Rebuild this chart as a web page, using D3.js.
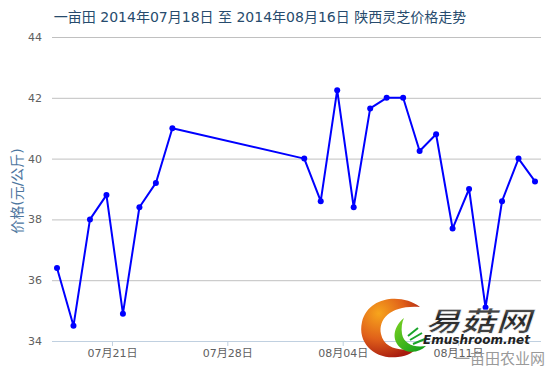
<!DOCTYPE html>
<html>
<head>
<meta charset="utf-8">
<script src="https://cdn.jsdelivr.net/npm/d3@7"></script>
<style>
  body { margin: 0; background: #fff; }
  svg { display: block; font-family: "DejaVu Sans", "Noto Sans CJK SC", sans-serif; }
</style>
</head>
<body>
<div id="chart"></div>
<script>
// data
const dates = ["2014-07-18", "2014-07-19", "2014-07-20", "2014-07-21", "2014-07-22", "2014-07-23",
  "2014-07-24", "2014-07-25", "2014-08-02", "2014-08-03", "2014-08-04", "2014-08-05", "2014-08-06",
  "2014-08-07", "2014-08-08", "2014-08-09", "2014-08-10", "2014-08-11", "2014-08-12", "2014-08-13",
  "2014-08-14", "2014-08-15", "2014-08-16"]
const prices = [36.4, 34.5, 38.0, 38.8, 34.9, 38.4, 39.2, 41.0, 40.0, 38.6, 42.25, 38.4, 41.65,
  42.0, 42.0, 40.25, 40.8, 37.7, 39.0, 35.1, 38.6, 40.0, 39.25]
const yTicks = [34, 36, 38, 40, 42, 44]
const xTicks = ["2014-07-21", "2014-07-28", "2014-08-04", "2014-08-11"]
const title = "一亩田 2014年07月18日 至 2014年08月16日 陕西灵芝价格走势"
const yTitle = "价格(元/公斤)"

const width = 550, height = 367
const plot = {left: 52, right: 541, top: 37, bottom: 341}

const parse = d3.utcParse("%Y-%m-%d")
const data = dates.map((d, i) => ({date: parse(d), value: prices[i]}))

const svg = d3.select("#chart").append("svg")
    .attr("width", width)
    .attr("height", height)

const x = d3.scaleUtc()
    .domain(d3.extent(data, d => d.date))
    .range([57, 535])

const y = d3.scaleLinear()
    .domain([34, 44])
    .range([plot.bottom, plot.top])

// title
svg.append("text")
    .attr("x", 260).attr("y", 22)
    .attr("text-anchor", "middle")
    .attr("fill", "#274b6d")
    .style("font-size", "14px")
    .text(title)

// grid + y labels
const yAxis = svg.append("g")
    .attr("transform", `translate(${plot.left},0)`)
    .call(d3.axisLeft(y).tickValues(yTicks).tickSize(-(plot.right - plot.left)).tickPadding(10))
yAxis.select(".domain").remove()
yAxis.selectAll(".tick line").attr("stroke", "#c0c0c0")
yAxis.selectAll(".tick text").attr("fill", "#606060").style("font-size", "11px")
    .attr("font-family", "DejaVu Sans")

// x axis, ticks sit at local midnight (8h after the utc points)
const xAxis = svg.append("g")
    .attr("transform", `translate(0,${plot.bottom})`)
    .call(d3.axisBottom(x)
        .tickValues(xTicks.map(d => d3.utcHour.offset(parse(d), 8)))
        .tickFormat(d3.utcFormat("%m月%d日"))
        .tickSize(5).tickPadding(3))
xAxis.select(".domain").attr("d", `M${plot.left},0.5H${plot.right}`).attr("stroke", "#c0d0e0")
xAxis.selectAll(".tick line").attr("stroke", "#c0d0e0")
xAxis.selectAll(".tick text").attr("fill", "#606060").style("font-size", "11px")
    .attr("font-family", "DejaVu Sans, Noto Sans CJK SC")

// y title
svg.append("text")
    .attr("transform", `translate(22,${(plot.top + plot.bottom) / 2 + 2}) rotate(-90)`)
    .attr("text-anchor", "middle")
    .attr("fill", "#4d759e")
    .style("font-size", "14px")
    .text(yTitle)

// series
const line = d3.line()
    .x(d => x(d.date))
    .y(d => y(d.value))

svg.append("path")
    .datum(data)
    .attr("fill", "none")
    .attr("stroke", "#0000ff")
    .attr("stroke-width", 2)
    .attr("stroke-linejoin", "round")
    .attr("d", line)

svg.append("g").selectAll("circle")
    .data(data)
    .join("circle")
    .attr("cx", d => x(d.date))
    .attr("cy", d => y(d.value))
    .attr("r", 3)
    .attr("fill", "#0000ff")

// watermark logo
const defs = svg.append("defs")
const og = defs.append("radialGradient").attr("id", "og")
    .attr("cx", "30%").attr("cy", "25%").attr("r", "80%")
og.append("stop").attr("offset", "0%").attr("stop-color", "#f7a51c")
og.append("stop").attr("offset", "55%").attr("stop-color", "#e0601a")
og.append("stop").attr("offset", "100%").attr("stop-color", "#a81c10")
const gg = defs.append("linearGradient").attr("id", "gg")
    .attr("x1", "0").attr("y1", "0").attr("x2", "1").attr("y2", "1")
gg.append("stop").attr("offset", "0%").attr("stop-color", "#7ed321")
gg.append("stop").attr("offset", "100%").attr("stop-color", "#0a9a1a")
const tg = defs.append("linearGradient").attr("id", "tg")
    .attr("x1", "0").attr("y1", "0").attr("x2", "0").attr("y2", "1")
tg.append("stop").attr("offset", "0%").attr("stop-color", "#888")
tg.append("stop").attr("offset", "45%").attr("stop-color", "#222")
tg.append("stop").attr("offset", "100%").attr("stop-color", "#555")

const logo = svg.append("g")
logo.append("path")
    .attr("fill", "url(#og)")
    .attr("d", "M420,307 C402,293 368,296 362,322 C357,344 376,360 398,357 C408,356 414,352 418,347"
        + " C404,352 384,350 381,334 C378,318 392,305 420,307 Z")
logo.append("path")
    .attr("fill", "url(#gg)")
    .attr("d", "M404,318 C394,326 390,340 402,349 C410,354 420,352 426,346"
        + " C414,348 404,344 402,334 C401,328 402,322 404,318 Z")
logo.append("path")
    .attr("fill", "none").attr("stroke", "#1aa52a").attr("stroke-width", 2)
    .attr("d", "M410,340 L422,333 M413,344 L425,339 M408,336 L418,328")

logo.append("text")
    .attr("x", 425).attr("y", 331)
    .attr("textLength", 106).attr("lengthAdjust", "spacingAndGlyphs")
    .attr("fill", "url(#tg)").attr("stroke", "#fff").attr("stroke-width", 0.6)
    .style("font-size", "27px").style("font-weight", "bold").style("font-style", "italic")
    .attr("font-family", "Noto Sans CJK SC")
    .text("易菇网")
logo.append("text")
    .attr("x", 423).attr("y", 344)
    .attr("textLength", 107).attr("lengthAdjust", "spacingAndGlyphs")
    .attr("fill", "#222")
    .style("font-size", "12px").style("font-weight", "bold").style("font-style", "italic")
    .attr("font-family", "DejaVu Sans")
    .text("Emushroom.net")

svg.append("text")
    .attr("x", 455).attr("y", 364)
    .attr("fill", "#9a9a9a")
    .style("font-size", "15px")
    .attr("font-family", "Noto Sans CJK SC")
    .text("一亩田农业网")
</script>
</body>
</html>
